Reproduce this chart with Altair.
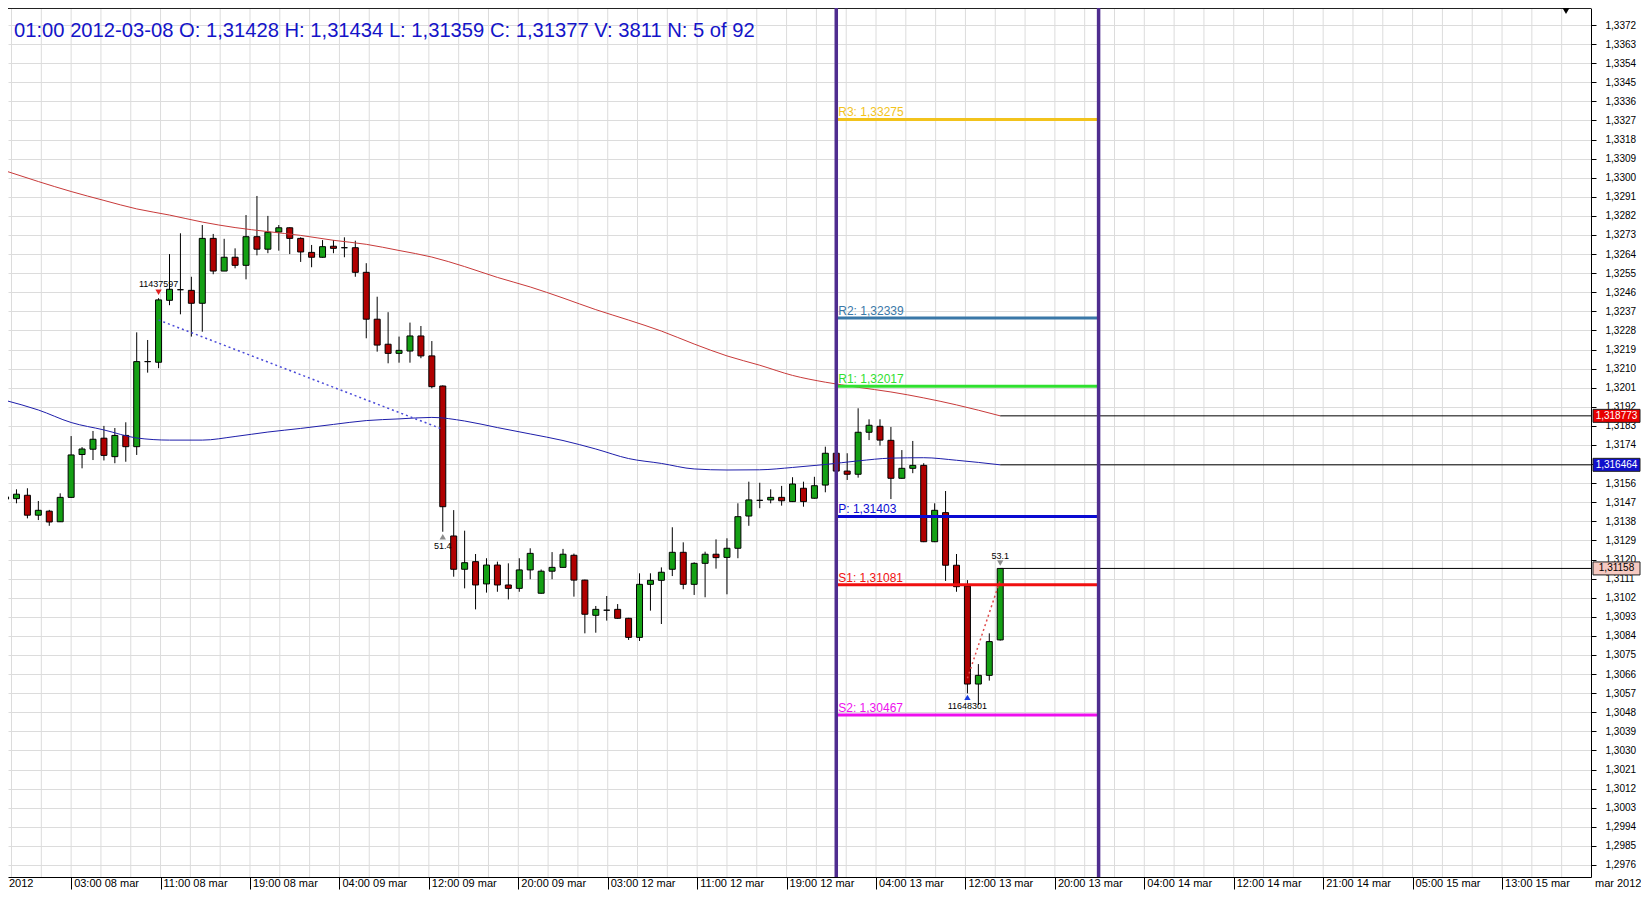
import altair as alt
import pandas as pd

# ---------------- data ----------------
opens = [1.31485, 1.31487, 1.31503, 1.31409, 1.31428, 1.31378, 1.31493, 1.31695, 1.31720, 1.31772,
         1.31685, 1.31785, 1.31732, 1.32133, 1.32130, 1.32422, 1.32472, 1.32469, 1.32408, 1.32714,
         1.32560, 1.32625, 1.32587, 1.32722, 1.32663, 1.32744, 1.32764, 1.32714, 1.32648, 1.32625,
         1.32677, 1.32670, 1.32670, 1.32554, 1.32333, 1.32215, 1.32172, 1.32183, 1.32254, 1.32160,
         1.32018, 1.31311, 1.31154, 1.31190, 1.31085, 1.31174, 1.31080, 1.31064, 1.31151, 1.31041,
         1.31145, 1.31163, 1.31220, 1.31103, 1.30937, 1.30961, 1.30965, 1.30923, 1.30833, 1.31083,
         1.31102, 1.31154, 1.31234, 1.31083, 1.31182, 1.31225, 1.31210, 1.31253, 1.31405, 1.31479,
         1.31481, 1.31493, 1.31473, 1.31536, 1.31489, 1.31551, 1.31701, 1.31617, 1.31602, 1.31800,
         1.31828, 1.31762, 1.31583, 1.31630, 1.31644, 1.31284, 1.31421, 1.31173, 1.31075, 1.30613,
         1.30654, 1.30821]
highs = [1.31542, 1.31531, 1.31536, 1.31476, 1.31434, 1.31512, 1.31782, 1.31730, 1.31806, 1.31830,
         1.31820, 1.31847, 1.32271, 1.32235, 1.32432, 1.32640, 1.32738, 1.32533, 1.32777, 1.32735,
         1.32712, 1.32667, 1.32824, 1.32914, 1.32820, 1.32777, 1.32766, 1.32719, 1.32683, 1.32706,
         1.32706, 1.32719, 1.32703, 1.32597, 1.32439, 1.32366, 1.32251, 1.32317, 1.32301, 1.32230,
         1.32021, 1.31433, 1.31336, 1.31226, 1.31206, 1.31190, 1.31182, 1.31206, 1.31253, 1.31153,
         1.31235, 1.31250, 1.31228, 1.31105, 1.30981, 1.31028, 1.30990, 1.30925, 1.31135, 1.31135,
         1.31163, 1.31352, 1.31281, 1.31187, 1.31237, 1.31295, 1.31300, 1.31465, 1.31567, 1.31562,
         1.31531, 1.31547, 1.31588, 1.31567, 1.31590, 1.31732, 1.31707, 1.31701, 1.31913, 1.31861,
         1.31861, 1.31825, 1.31716, 1.31759, 1.31654, 1.31465, 1.31523, 1.31226, 1.31103, 1.30707,
         1.30852, 1.31160]
lows = [1.31457, 1.31465, 1.31394, 1.31386, 1.31359, 1.31377, 1.31490, 1.31630, 1.31669, 1.31667,
        1.31654, 1.31661, 1.31693, 1.32081, 1.32102, 1.32399, 1.32356, 1.32251, 1.32274, 1.32545,
        1.32560, 1.32573, 1.32521, 1.32634, 1.32644, 1.32656, 1.32640, 1.32603, 1.32578, 1.32623,
        1.32644, 1.32625, 1.32533, 1.32243, 1.32180, 1.32125, 1.32128, 1.32128, 1.32149, 1.32007,
        1.31331, 1.31119, 1.31064, 1.30965, 1.31044, 1.31048, 1.31012, 1.31048, 1.31107, 1.31039,
        1.31107, 1.31161, 1.31025, 1.30852, 1.30855, 1.30912, 1.30921, 1.30821, 1.30816, 1.30959,
        1.30896, 1.31122, 1.31060, 1.31033, 1.31022, 1.31157, 1.31036, 1.31206, 1.31359, 1.31442,
        1.31465, 1.31454, 1.31471, 1.31449, 1.31487, 1.31517, 1.31608, 1.31575, 1.31586, 1.31763,
        1.31737, 1.31485, 1.31581, 1.31607, 1.31282, 1.31282, 1.31099, 1.31048, 1.30569, 1.30514,
        1.30629, 1.30818]
closes = [1.31495, 1.31508, 1.31409, 1.31432, 1.31377, 1.31493, 1.31693, 1.31721, 1.31767, 1.31691,
          1.31785, 1.31732, 1.32133, 1.32133, 1.32424, 1.32474, 1.32472, 1.32408, 1.32714, 1.32560,
          1.32625, 1.32587, 1.32722, 1.32663, 1.32743, 1.32764, 1.32714, 1.32650, 1.32625, 1.32675,
          1.32667, 1.32670, 1.32554, 1.32333, 1.32211, 1.32172, 1.32186, 1.32254, 1.32160, 1.32015,
          1.31449, 1.31154, 1.31185, 1.31080, 1.31174, 1.31080, 1.31064, 1.31151, 1.31229, 1.31145,
          1.31163, 1.31225, 1.31103, 1.30942, 1.30965, 1.30961, 1.30923, 1.30833, 1.31083, 1.31102,
          1.31140, 1.31234, 1.31083, 1.31182, 1.31225, 1.31209, 1.31253, 1.31402, 1.31481, 1.31479,
          1.31493, 1.31477, 1.31556, 1.31473, 1.31548, 1.31701, 1.31617, 1.31602, 1.31800, 1.31833,
          1.31763, 1.31583, 1.31630, 1.31644, 1.31284, 1.31432, 1.31173, 1.31072, 1.30613, 1.30654,
          1.30813, 1.31158]
bars = list(range(len(opens)))

ma_bars = [0, 3, 6, 9, 12, 15, 18, 21, 24, 27, 30, 33, 36, 39, 42, 45, 48, 51, 54, 57,
           60, 63, 66, 69, 72, 75, 78, 81, 84, 87, 91]
ma_slow = [1.33032, 1.32982, 1.32935, 1.32893, 1.32853, 1.32824, 1.32791, 1.32765, 1.32746, 1.32728,
           1.32705, 1.32686, 1.32657, 1.32626, 1.32581, 1.32530, 1.32485, 1.32433, 1.32378, 1.32329,
           1.32277, 1.32216, 1.32160, 1.32116, 1.32068, 1.32036, 1.32012, 1.31990, 1.31962, 1.31929,
           1.318773]
ma_fast = [1.31950, 1.31905, 1.31846, 1.31811, 1.31773, 1.31763, 1.31763, 1.31780, 1.31801, 1.31818,
           1.31837, 1.31855, 1.31863, 1.31870, 1.31853, 1.31822, 1.31792, 1.31761, 1.31721, 1.31676,
           1.31653, 1.31627, 1.31622, 1.31623, 1.31634, 1.31648, 1.31665, 1.31678, 1.31680, 1.31668,
           1.316464]

pivot_names = ["R3", "R2", "R1", "P", "S1", "S2"]
pivot_values = [1.33275, 1.32339, 1.32017, 1.31403, 1.31081, 1.30467]
pivot_colors = ["#f2c31c", "#3a78a8", "#30e030", "#0a0ad2", "#f01010", "#ee10ee"]
session_bars = [76, 100]

dotted_seg = ["a", "a", "b", "b"]
dotted_bars = [14, 40, 88, 91]
dotted_vals = [1.32329, 1.31814, 1.30640, 1.31103]
dotted_cols = ["#4a4ad8", "#4a4ad8", "#e04848", "#e04848"]

last_values = [1.318773, 1.316464, 1.31158]
last_labels = ["1,318773", "1,316464", "1,31158"]
last_fills = ["#e80000", "#1010cc", "#f6c9c1"]
last_text_cols = ["#ffffff", "#ffffff", "#000000"]

marker_bars = [14, 40, 88, 91]
marker_anchor = [1.32432, 1.31331, 1.30569, 1.31160]
marker_texts = ["11437597", "51.4", "11648301", "53.1"]
marker_shapes = ["triangle-down", "triangle-up", "triangle-up", "triangle-down"]
marker_cols = ["#e02020", "#8c8c8c", "#1a3ee0", "#8c8c8c"]

y_ticks = [1.2976, 1.2985, 1.2994, 1.3003, 1.3012, 1.3021, 1.3030, 1.3039, 1.3048, 1.3057,
           1.3066, 1.3075, 1.3084, 1.3093, 1.3102, 1.3111, 1.3120, 1.3129, 1.3138, 1.3147,
           1.3156, 1.3165, 1.3174, 1.3183, 1.3192, 1.3201, 1.3210, 1.3219, 1.3228, 1.3237,
           1.3246, 1.3255, 1.3264, 1.3273, 1.3282, 1.3291, 1.3300, 1.3309, 1.3318, 1.3327,
           1.3336, 1.3345, 1.3354, 1.3363, 1.3372]
hidden_y_label = 1.3165   # covered by the blue value box in the reference
x_tick_pos = [6.0, 14.1818, 22.3636, 30.5455, 38.7273, 46.9091, 55.0909, 63.2727, 71.4545,
              79.6364, 87.8182, 96.0, 104.1818, 112.3636, 120.5455, 128.7273, 136.9091]
x_tick_labels = ["03:00 08 mar", "11:00 08 mar", "19:00 08 mar", "04:00 09 mar", "12:00 09 mar",
                 "20:00 09 mar", "03:00 12 mar", "11:00 12 mar", "19:00 12 mar", "04:00 13 mar",
                 "12:00 13 mar", "20:00 13 mar", "04:00 14 mar", "12:00 14 mar", "21:00 14 mar",
                 "05:00 15 mar", "13:00 15 mar"]
month_label = "mar 2012"
left_edge_label = "2012"
title_text = "01:00 2012-03-08 O: 1,31428 H: 1,31434 L: 1,31359 C: 1,31377 V: 3811 N: 5 of 92"

# ---------------- layout ----------------
W, H = 1583, 869
RPAD, BPAD = 50, 13
BAR_PX = 11.0
X0 = 7.5 / BAR_PX
X1 = X0 + W / BAR_PX
PX = 0.000047145          # price per pixel
Y_TOP = 1.3380015
Y_BOT = Y_TOP - H * PX
FONT = "Liberation Sans"
NARROW = "Liberation Sans Narrow, Liberation Sans"

xs = alt.Scale(domain=[X0, X1], nice=False, zero=False)
ys = alt.Scale(domain=[Y_BOT, Y_TOP], nice=False, zero=False)

XAX = alt.Axis(values=x_tick_pos, labels=False, ticks=True, tickSize=12, tickColor="black",
               domainColor="black", grid=False, title=None, orient="bottom")
YAX = alt.Axis(orient="right", values=y_ticks, title=None, grid=True, gridColor="#dcdcdc",
               gridWidth=1, tickSize=5, tickColor="black", domainColor="black",
               labelPadding=9, labelFont=FONT, labelFontSize=10, labelColor="black",
               labelExpr=f"abs(datum.value - {hidden_y_label}) < 0.00001 ? '' : "
                         "replace(format(datum.value, '.4f'), '.', ',')")


def X(f):
    return alt.X(f, type="quantitative", scale=xs, axis=XAX)


def Y(f):
    return alt.Y(f, type="quantitative", scale=ys, axis=YAX)


candles = pd.DataFrame({"k": bars, "o": opens, "h": highs, "l": lows, "c": closes})
candles["col"] = ["#14a014" if c >= o else "#b00000" for o, c in zip(opens, closes)]

grid_df = pd.DataFrame({"gx": [6 + 30 * m / BAR_PX for m in range(-2, 51)]})
vgrid = alt.Chart(grid_df).mark_rule(color="#dcdcdc", strokeWidth=1).encode(x=X("gx"))

top_df = pd.DataFrame({"t": [0]})
top_line = alt.Chart(top_df).mark_rule(color="#222222", strokeWidth=1).encode(
    x=alt.value(0), x2=alt.value(W), y=alt.value(0.5))

wicks = alt.Chart(candles).mark_rule(color="black", strokeWidth=1).encode(
    x=X("k"), y=Y("l"), y2="h:Q")

bodies = alt.Chart(candles).mark_bar(size=6, stroke="black", strokeWidth=1).encode(
    x=X("k"), y=Y("o"), y2="c:Q", fill=alt.Fill("col:N", scale=None))

ma_df = pd.DataFrame({"k": ma_bars, "slow": ma_slow, "fast": ma_fast})
ma_slow_line = alt.Chart(ma_df).mark_line(color="#c83a3a", strokeWidth=1, interpolate="monotone").encode(
    x=X("k"), y=Y("slow"))
ma_fast_line = alt.Chart(ma_df).mark_line(color="#1e1eaa", strokeWidth=1, interpolate="monotone").encode(
    x=X("k"), y=Y("fast"))

dot_df = pd.DataFrame({"seg": dotted_seg, "k": dotted_bars, "v": dotted_vals, "col": dotted_cols})
dotted = alt.Chart(dot_df).mark_line(strokeDash=[2, 3], strokeWidth=1.5).encode(
    x=X("k"), y=Y("v"), color=alt.Color("col:N", scale=None), detail="seg:N")

last_df = pd.DataFrame({"k": [bars[-1]] * 3, "v": last_values, "lab": last_labels,
                        "fill": last_fills, "tc": last_text_cols})
last_lines = alt.Chart(last_df).mark_rule(color="black", strokeWidth=1).encode(
    x=X("k"), x2=alt.value(W), y=Y("v"))

piv_df = pd.DataFrame({"ks": [session_bars[0]] * 6, "ke": [session_bars[1]] * 6,
                       "v": pivot_values, "col": pivot_colors,
                       "lab": [f"{n}: {str(v).replace('.', ',')}" for n, v in zip(pivot_names, pivot_values)]})
piv_lines = alt.Chart(piv_df).mark_rule(strokeWidth=3).encode(
    x=X("ks"), x2="ke:Q", y=Y("v"), color=alt.Color("col:N", scale=None))
piv_text = alt.Chart(piv_df).mark_text(align="left", baseline="alphabetic", dx=2, dy=-3,
                                       fontSize=12, font=FONT).encode(
    x=X("ks"), y=Y("v"), text="lab:N", color=alt.Color("col:N", scale=None))

sess_df = pd.DataFrame({"k": session_bars})
sess_lines = alt.Chart(sess_df).mark_rule(color="#4f2d8f", strokeWidth=3.5).encode(x=X("k"))

tri_off = [-6, 5, 4, -5]
txt_off = [-14, 14, 13, -12]
mk_df = pd.DataFrame({"k": marker_bars, "txt": marker_texts, "shape": marker_shapes, "col": marker_cols,
                      "tp": [a - o * PX for a, o in zip(marker_anchor, tri_off)],
                      "tt": [a - o * PX for a, o in zip(marker_anchor, txt_off)]})
mk_tri = alt.Chart(mk_df).mark_point(filled=True, size=40, opacity=1).encode(
    x=X("k"), y=Y("tp"), shape=alt.Shape("shape:N", scale=None), color=alt.Color("col:N", scale=None))
mk_txt = alt.Chart(mk_df).mark_text(fontSize=9, font=FONT, color="black", baseline="middle").encode(
    x=X("k"), y=Y("tt"), text="txt:N")

title_df = pd.DataFrame({"t": [title_text]})
title = alt.Chart(title_df).mark_text(align="left", baseline="alphabetic", fontSize=20.2, font=FONT,
                                      color="#1414c8").encode(
    x=alt.value(6), y=alt.value(29), text="t:N")

xl_df = pd.DataFrame({"pos": x_tick_pos, "lab": x_tick_labels})
xlabels = alt.Chart(xl_df).mark_text(align="left", baseline="top", dx=3, fontSize=11,
                                     font=NARROW, color="black").encode(
    x=X("pos"), y=alt.value(H + 1), text="lab:N")

month_df = pd.DataFrame({"t": [month_label], "l": [left_edge_label]})
month_right = alt.Chart(month_df).mark_text(align="left", baseline="top", fontSize=11,
                                            font=NARROW, color="black").encode(
    x=alt.value(W + 4), y=alt.value(H + 1), text="t:N")
month_left = alt.Chart(month_df).mark_text(align="left", baseline="top", fontSize=11,
                                           font=NARROW, color="black").encode(
    x=alt.value(1), y=alt.value(H + 1), text="l:N")

boxes = alt.Chart(last_df).mark_rect(yOffset=-6.5, y2Offset=6.5, stroke="#222222", strokeWidth=1).encode(
    x=alt.value(W + 2), x2=alt.value(W + RPAD - 1), y=Y("v"), y2="v:Q", fill=alt.Fill("fill:N", scale=None))
box_txt = alt.Chart(last_df).mark_text(align="center", baseline="middle", fontSize=10, font=FONT).encode(
    x=alt.value(W + (RPAD + 1) / 2), y=Y("v"), text="lab:N", color=alt.Color("tc:N", scale=None))

corner_df = pd.DataFrame({"s": ["triangle-down"]})
corner = alt.Chart(corner_df).mark_point(filled=True, size=50, color="black", opacity=1,
                                         shape="triangle-down").encode(
    x=alt.value(1558), y=alt.value(3))

chart = alt.layer(
    vgrid, top_line, wicks, bodies, ma_slow_line, ma_fast_line, dotted, last_lines,
    piv_lines, piv_text, sess_lines, mk_tri, mk_txt, title, xlabels, month_right, month_left,
    boxes, box_txt, corner
).properties(
    width=W, height=H,
    autosize=alt.AutoSizeParams(type="none"),
    padding={"left": 0, "top": 0, "right": RPAD, "bottom": BPAD},
    background="white",
).configure(font=FONT).configure_view(stroke="transparent")

chart.save("out.html", embed_options={"renderer": "svg", "actions": False})
